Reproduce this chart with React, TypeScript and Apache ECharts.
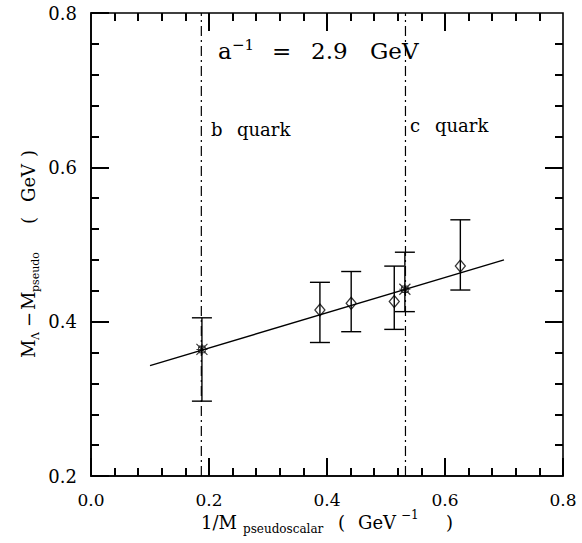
import React, { useEffect, useRef } from 'react';
import * as echarts from 'echarts';

// ---- data ----
const xTickValues = [0.0, 0.2, 0.4, 0.6, 0.8];
const yTickValues = [0.2, 0.4, 0.6, 0.8];
const minorPerMajor = 5;

// open diamonds (measured points)
const diamondX = [0.388, 0.441, 0.514, 0.626];
const diamondY = [0.415, 0.424, 0.426, 0.472];
const diamondLo = [0.373, 0.387, 0.39, 0.441];
const diamondHi = [0.451, 0.465, 0.472, 0.532];

// bursts (values at b and c quark)
const starX = [0.188, 0.532];
const starY = [0.364, 0.442];
const starLo = [0.297, 0.413];
const starHi = [0.405, 0.49];

// linear fit
const fitX = [0.1, 0.7];
const fitY = [0.343, 0.48];

// quark mass markers (1/M)
const quarkX = [0.187, 0.533];
const quarkNames = ['b quark', 'c quark'];

const FONT = '"DejaVu Serif", "Liberation Serif", serif';
const X_MIN = xTickValues[0];
const X_MAX = xTickValues[xTickValues.length - 1];
const Y_MIN = yTickValues[0];
const Y_MAX = yTickValues[yTickValues.length - 1];
const GRID = { left: 91, top: 13, width: 472, height: 463 };
const MAJOR_LEN = 18;
const MINOR_LEN = 8;

function txt(text: string, x: number, baseline: number, size: number) {
  return {
    type: 'text',
    x,
    y: baseline - 0.346 * size,
    style: {
      text,
      font: `${size}px ${FONT}`,
      fill: '#000',
      textAlign: 'left',
      align: 'left',
      textVerticalAlign: 'middle',
      verticalAlign: 'middle',
    },
  };
}

function vtxt(text: string, baselineX: number, startY: number, size: number) {
  return {
    type: 'text',
    x: baselineX - 0.346 * size,
    y: startY,
    rotation: Math.PI / 2,
    style: {
      text,
      font: `${size}px ${FONT}`,
      fill: '#000',
      textAlign: 'left',
      align: 'left',
      textVerticalAlign: 'middle',
      verticalAlign: 'middle',
    },
  };
}

function errorBarRender(params: any, api: any) {
  const x = api.value(0);
  const lo = api.value(1);
  const hi = api.value(2);
  const pLo = api.coord([x, lo]);
  const pHi = api.coord([x, hi]);
  const w = 10;
  const style = { stroke: '#000', lineWidth: 1.4 };
  return {
    type: 'group',
    children: [
      { type: 'line', shape: { x1: pLo[0], y1: pLo[1], x2: pHi[0], y2: pHi[1] }, style },
      { type: 'line', shape: { x1: pLo[0] - w, y1: pLo[1], x2: pLo[0] + w, y2: pLo[1] }, style },
      { type: 'line', shape: { x1: pHi[0] - w, y1: pHi[1], x2: pHi[0] + w, y2: pHi[1] }, style },
    ],
  };
}

// tick positions (major + minor) along an axis
function tickList(values: number[]) {
  const out: { v: number; major: boolean }[] = [];
  for (let i = 0; i < values.length; i++) {
    const v = values[i];
    if (i > 0 && i < values.length - 1) out.push({ v, major: true });
    if (i < values.length - 1) {
      const step = (values[i + 1] - v) / minorPerMajor;
      for (let k = 1; k < minorPerMajor; k++) out.push({ v: v + k * step, major: false });
    }
  }
  return out;
}

// mirrored inside ticks on the top and right frame edges (data coordinates)
function buildMirrorTicks() {
  const dyPerPx = (Y_MAX - Y_MIN) / GRID.height;
  const dxPerPx = (X_MAX - X_MIN) / GRID.width;
  const lines: any[] = [];
  tickList(xTickValues).forEach(({ v, major }) => {
    const d = (major ? MAJOR_LEN : MINOR_LEN) * dyPerPx;
    lines.push([{ coord: [v, Y_MAX] }, { coord: [v, Y_MAX - d] }]);
  });
  tickList(yTickValues).forEach(({ v, major }) => {
    const d = (major ? MAJOR_LEN : MINOR_LEN) * dxPerPx;
    lines.push([{ coord: [X_MAX, v] }, { coord: [X_MAX - d, v] }]);
  });
  return lines;
}

export default function App() {
  const ref = useRef<HTMLDivElement>(null);

  useEffect(() => {
    if (!ref.current) return;
    const chart = echarts.init(ref.current, undefined, { renderer: 'svg' });

    const errData = diamondX
      .map((x, i) => [x, diamondLo[i], diamondHi[i]])
      .concat(starX.map((x, i) => [x, starLo[i], starHi[i]]));

    const quarkSeries = quarkX.map((qx, i) => ({
      type: 'line',
      name: quarkNames[i],
      data: [
        [qx, Y_MIN],
        [qx, Y_MAX],
      ],
      showSymbol: false,
      lineStyle: { color: '#000', width: 1.2, type: [10, 4, 2, 4] },
    }));

    const option: any = {
      animation: false,
      backgroundColor: '#fff',
      grid: {
        ...GRID,
        containLabel: false,
        show: true,
        borderColor: '#000',
        borderWidth: 1.6,
        backgroundColor: 'transparent',
      },
      xAxis: {
        type: 'value',
        position: 'bottom',
        min: X_MIN,
        max: X_MAX,
        interval: 0.2,
        axisLine: { show: true, onZero: false, lineStyle: { color: '#000', width: 1.6 } },
        axisTick: { show: true, inside: true, length: MAJOR_LEN, lineStyle: { color: '#000', width: 2 } },
        minorTick: { show: true, splitNumber: minorPerMajor, length: MINOR_LEN, lineStyle: { color: '#000', width: 2 } },
        splitLine: { show: false },
        axisLabel: {
          show: true,
          margin: 15,
          color: '#000',
          fontFamily: FONT,
          fontSize: 17,
          formatter: (v: number) => v.toFixed(1),
        },
      },
      yAxis: {
        type: 'value',
        position: 'left',
        min: Y_MIN,
        max: Y_MAX,
        interval: 0.2,
        axisLine: { show: true, onZero: false, lineStyle: { color: '#000', width: 1.6 } },
        axisTick: { show: true, inside: true, length: MAJOR_LEN, lineStyle: { color: '#000', width: 2 } },
        minorTick: { show: true, splitNumber: minorPerMajor, length: MINOR_LEN, lineStyle: { color: '#000', width: 2 } },
        splitLine: { show: false },
        axisLabel: {
          show: true,
          margin: 14,
          color: '#000',
          fontFamily: FONT,
          fontSize: 18,
          formatter: (v: number) => v.toFixed(1),
        },
      },
      series: [
        ...quarkSeries,
        {
          type: 'line',
          data: fitX.map((x, i) => [x, fitY[i]]),
          showSymbol: false,
          lineStyle: { color: '#000', width: 1.4 },
          markLine: {
            symbol: ['none', 'none'],
            label: { show: false },
            lineStyle: { color: '#000', width: 2, type: 'solid' },
            data: buildMirrorTicks(),
          },
        },
        {
          type: 'custom',
          renderItem: errorBarRender,
          data: errData,
          encode: { x: 0, y: [1, 2] },
        },
        {
          type: 'scatter',
          data: diamondX.map((x, i) => [x, diamondY[i]]),
          symbol: 'diamond',
          symbolSize: [10, 12],
          itemStyle: { color: 'rgba(0,0,0,0)', borderColor: '#000', borderWidth: 1.3 },
        },
        {
          type: 'scatter',
          data: starX.map((x, i) => [x, starY[i]]),
          symbol: 'path://M0 0L10 10M0 10L10 0M5 0L5 10M0 5L10 5M2 2L8 2L8 8L2 8Z',
          symbolSize: 11,
          itemStyle: { color: 'rgba(0,0,0,0)', borderColor: '#000', borderWidth: 1.1 },
        },
      ],
      graphic: [
        // a^-1 = 2.9 GeV
        txt('a', 218, 59, 23),
        txt('\u22121', 232, 50, 15),
        txt('=', 272, 59, 23),
        txt('2.9', 311, 59, 23),
        txt('GeV', 370, 59, 23),
        // quark labels
        txt('b', 211, 136, 18),
        txt('quark', 237, 136, 18),
        txt('c', 410, 132, 18),
        txt('quark', 435, 132, 18),
        // x axis title
        txt('1/M', 201, 529, 18),
        txt('pseudoscalar', 243, 533, 12),
        txt('(', 338, 529, 18),
        txt('GeV', 358, 529, 18),
        txt('\u22121', 401, 519, 12),
        txt(')', 446, 529, 18),
        // y axis title (rotated)
        vtxt('M', 35, 358, 18),
        vtxt('\u039B', 39, 340, 11),
        vtxt('\u2212', 35, 327, 18),
        vtxt('M', 35, 310, 18),
        vtxt('pseudo', 39, 292, 11),
        vtxt('(', 35, 224, 18),
        vtxt('GeV', 35, 202, 18),
        vtxt(')', 35, 157, 18),
      ],
    };

    chart.setOption(option);
    return () => chart.dispose();
  }, []);

  return (
    <div
      ref={ref}
      style={{ position: 'fixed', left: 0, top: 0, width: 582, height: 543, background: '#fff' }}
    />
  );
}
